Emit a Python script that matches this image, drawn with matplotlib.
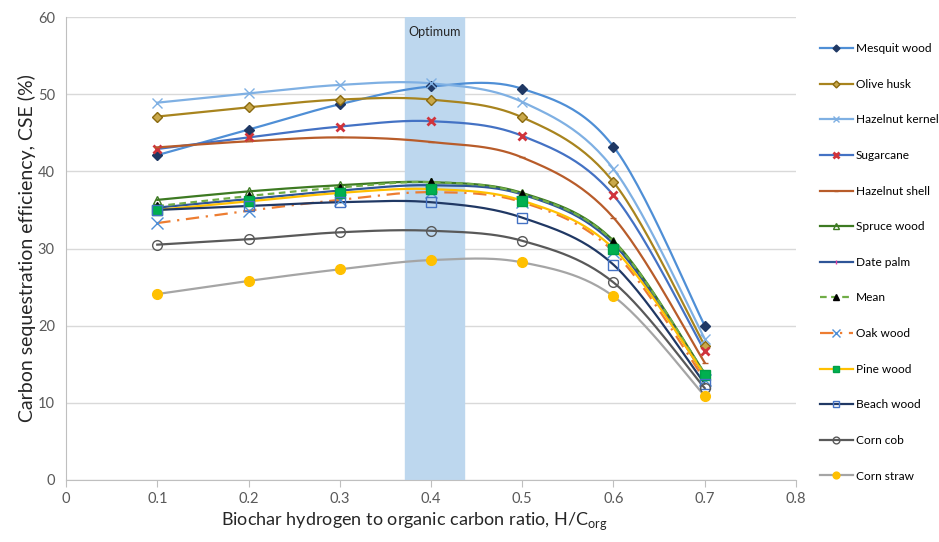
import numpy as np
import matplotlib
matplotlib.use("Agg")
import matplotlib.pyplot as plt

plt.rcParams['font.family'] = ['Lato', 'DejaVu Sans']

hc = [0.1, 0.2, 0.3, 0.4, 0.5, 0.6, 0.7]

mesquit = [42.1, 45.4, 48.7, 51.0, 50.7, 43.2, 20.0]
olive = [47.1, 48.3, 49.3, 49.3, 47.0, 38.6, 17.4]
hazel_kernel = [48.9, 50.1, 51.2, 51.4, 49.0, 40.3, 18.3]
sugarcane = [42.9, 44.4, 45.8, 46.5, 44.6, 36.9, 16.7]
hazel_shell = [43.1, 43.9, 44.4, 43.8, 41.8, 34.0, 15.2]
spruce = [36.3, 37.4, 38.2, 38.6, 37.2, 31.0, 13.8]
date_palm = [35.3, 36.4, 37.5, 38.2, 37.0, 30.6, 13.5]
mean = [35.5, 36.8, 37.9, 38.6, 37.1, 30.9, 13.8]
oak = [33.3, 34.9, 36.3, 37.3, 36.0, 29.6, 13.0]
pine = [35.0, 36.1, 37.2, 37.7, 36.2, 30.0, 13.6]
beach = [35.0, 35.5, 36.0, 36.0, 34.0, 27.9, 12.5]
corn_cob = [30.5, 31.2, 32.1, 32.3, 31.0, 25.6, 11.9]
corn_straw = [24.1, 25.8, 27.3, 28.5, 28.2, 23.8, 10.9]

optimum = (0.372, 0.436)


def smooth(x, y, n=30):
    # Excel style smoothed line (Catmull-Rom Bezier)
    x = np.asarray(x, float)
    y = np.asarray(y, float)
    px = np.concatenate([[x[0]], x, [x[-1]]])
    py = np.concatenate([[y[0]], y, [y[-1]]])
    xs, ys = [], []
    t = np.linspace(0, 1, n)
    for i in range(1, len(x)):
        p0 = np.array([px[i - 1], py[i - 1]])
        p1 = np.array([px[i], py[i]])
        p2 = np.array([px[i + 1], py[i + 1]])
        p3 = np.array([px[i + 2], py[i + 2]])
        c1 = p1 + (p2 - p0) / 6
        c2 = p2 - (p3 - p1) / 6
        b = ((1 - t) ** 3)[:, None] * p1 + (3 * (1 - t) ** 2 * t)[:, None] * c1 \
            + (3 * (1 - t) * t ** 2)[:, None] * c2 + (t ** 3)[:, None] * p2
        xs.extend(b[:, 0])
        ys.extend(b[:, 1])
    return xs, ys


series = [
    ("Mesquit wood", mesquit, dict(color="#4f8fd6", ls="-"), dict(marker="D", ms=5, mfc="#1f3864", mec="#1f3864")),
    ("Olive husk", olive, dict(color="#a8841e", ls="-"), dict(marker="D", ms=5, mfc="#c9a84a", mec="#8a6a10")),
    ("Hazelnut kernel", hazel_kernel, dict(color="#7fb0e3", ls="-"), dict(marker="x", ms=7, mfc="none", mec="#7fb0e3")),
    ("Sugarcane", sugarcane, dict(color="#4472c4", ls="-"), dict(marker="x", ms=6, mfc="none", mec="#d0343c", mew=2)),
    ("Hazelnut shell", hazel_shell, dict(color="#b85c2a", ls="-"), dict(marker="_", ms=5, mfc="none", mec="#b85c2a")),
    ("Spruce wood", spruce, dict(color="#3d7a22", ls="-"), dict(marker="^", ms=6, mfc="none", mec="#3d7a22")),
    ("Date palm", date_palm, dict(color="#2e5597", ls="-"), dict(marker="|", ms=5, mfc="none", mec="#e040a0")),
    ("Mean", mean, dict(color="#70ad47", ls=(0, (3, 2))), dict(marker="^", ms=6, mfc="black", mec="black")),
    ("Oak wood", oak, dict(color="#ed7d31", ls=(0, (6, 3, 1, 3))), dict(marker="x", ms=9, mfc="none", mec="#4f8fd6")),
    ("Pine wood", pine, dict(color="#ffc000", ls="-"), dict(marker="s", ms=7, mfc="#00b050", mec="#00a048")),
    ("Beach wood", beach, dict(color="#203864", ls="-"), dict(marker="s", ms=7, mfc="none", mec="#4472c4")),
    ("Corn cob", corn_cob, dict(color="#595959", ls="-"), dict(marker="o", ms=7, mfc="none", mec="#595959")),
    ("Corn straw", corn_straw, dict(color="#a5a5a5", ls="-"), dict(marker="o", ms=7, mfc="#ffc000", mec="#ffc000")),
]

fig = plt.figure(figsize=(9.39, 5.42), dpi=100)
ax = fig.add_axes([0.0703, 0.1144, 0.7774, 0.8542])

ax.axvspan(optimum[0], optimum[1], color="#bdd7ee", zorder=1)
ax.text(sum(optimum) / 2, 58.1, "Optimum", ha="center", va="center", fontsize=9, color="#262626", zorder=2)

handles = []
for name, vals, lst, mk in series:
    sx, sy = smooth(hc, vals)
    ax.plot(sx, sy, lw=1.6, zorder=3, **lst)
    ax.plot(hc, vals, ls="none", zorder=4, **mk)
    mk_leg = dict(mk)
    mk_leg["ms"] = mk["ms"] * 0.7
    h, = ax.plot([], [], lw=1.6, label=name, **lst, **mk_leg)
    handles.append(h)

ax.set_xlim(0, 0.8)
ax.set_ylim(0, 60)
ax.set_xticks(np.arange(0, 0.81, 0.1))
ax.set_xticklabels(["0", "0.1", "0.2", "0.3", "0.4", "0.5", "0.6", "0.7", "0.8"])
ax.set_yticks(range(0, 61, 10))
ax.yaxis.grid(True, color="#d9d9d9", lw=1)
ax.set_axisbelow(True)
for s in ["top", "right"]:
    ax.spines[s].set_visible(False)
ax.spines["left"].set_color("#bfbfbf")
ax.spines["bottom"].set_color("#bfbfbf")
ax.tick_params(axis="y", length=0, labelsize=10.5, colors="#595959", pad=8)
ax.tick_params(axis="x", length=5, direction="out", color="#bfbfbf", labelsize=10.5, labelcolor="#595959")

ax.set_ylabel("Carbon sequestration efficiency, CSE (%)", fontsize=14, color="#262626", labelpad=1)
ax.set_xlabel("Biochar hydrogen to organic carbon ratio, H/C$_{\\mathregular{org}}$", fontsize=13, color="#262626", labelpad=10)
ax.xaxis.set_label_coords(0.477, -0.065)
ax.xaxis.label.set_va("top")

fig.legend(handles=handles, loc="upper left", bbox_to_anchor=(0.868, 0.929), frameon=False,
           fontsize=8.6, labelspacing=2.06, handlelength=2.75, handletextpad=0.25, borderaxespad=0)

fig.savefig("out.png", dpi=100)
